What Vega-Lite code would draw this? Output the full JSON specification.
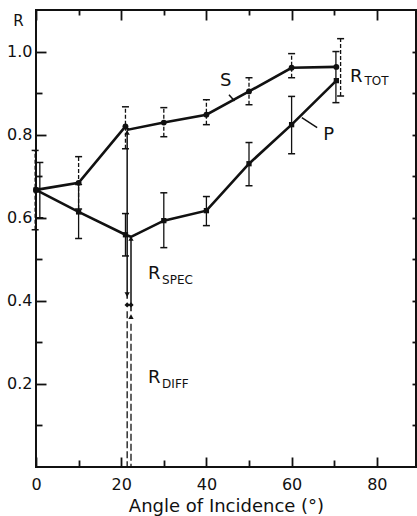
{
  "$schema": "https://vega.github.io/schema/vega-lite/v6.json",
  "width": 380,
  "height": 457,
  "autosize": {"type": "none"},
  "padding": {"left": 36, "top": 10, "right": 1, "bottom": 49},
  "background": "white",
  "config": {
    "view": {"stroke": "#111", "strokeWidth": 2},
    "font": "DejaVu Sans",
    "axis": {"grid": false, "domain": false, "tickColor": "#111", "labelColor": "#111", "titleColor": "#111", "labelFont": "DejaVu Sans", "titleFont": "DejaVu Sans", "tickWidth": 1.8, "titleFontWeight": "normal"}
  },
  "datasets": {
    "lines": [
      {"series": "S", "kind": "measured", "angle": 0, "R": 0.667},
      {"series": "S", "kind": "measured", "angle": 10, "R": 0.684},
      {"series": "S", "kind": "measured", "angle": 21, "R": 0.82},
      {"series": "S", "kind": "junction", "angle": 21.6, "R": 0.812},
      {"series": "S", "kind": "measured", "angle": 30, "R": 0.829},
      {"series": "S", "kind": "measured", "angle": 40, "R": 0.848},
      {"series": "S", "kind": "measured", "angle": 50, "R": 0.904},
      {"series": "S", "kind": "measured", "angle": 60, "R": 0.961},
      {"series": "S", "kind": "measured", "angle": 70.5, "R": 0.963},
      {"series": "P", "kind": "measured", "angle": 0, "R": 0.667},
      {"series": "P", "kind": "measured", "angle": 10, "R": 0.614},
      {"series": "P", "kind": "measured", "angle": 21, "R": 0.559},
      {"series": "P", "kind": "junction", "angle": 22.3, "R": 0.554},
      {"series": "P", "kind": "measured", "angle": 30, "R": 0.593},
      {"series": "P", "kind": "measured", "angle": 40, "R": 0.617},
      {"series": "P", "kind": "measured", "angle": 50, "R": 0.73},
      {"series": "P", "kind": "measured", "angle": 60, "R": 0.824},
      {"series": "P", "kind": "measured", "angle": 70.5, "R": 0.93}
    ],
    "errors": [
      {"series": "S", "angle": -0.2, "lo": 0.571, "hi": 0.762},
      {"series": "S", "angle": 10, "lo": 0.621, "hi": 0.747},
      {"series": "S", "angle": 21, "lo": 0.766, "hi": 0.867},
      {"series": "S", "angle": 30, "lo": 0.795, "hi": 0.865},
      {"series": "S", "angle": 40, "lo": 0.824, "hi": 0.884},
      {"series": "S", "angle": 50, "lo": 0.872, "hi": 0.937},
      {"series": "S", "angle": 60, "lo": 0.937, "hi": 0.995},
      {"series": "S", "angle": 71.5, "lo": 0.893, "hi": 1.031},
      {"series": "P", "angle": 0.9, "lo": 0.6, "hi": 0.733},
      {"series": "P", "angle": 10, "lo": 0.55, "hi": 0.68},
      {"series": "P", "angle": 21, "lo": 0.508, "hi": 0.61},
      {"series": "P", "angle": 30, "lo": 0.528, "hi": 0.66},
      {"series": "P", "angle": 40, "lo": 0.581, "hi": 0.651},
      {"series": "P", "angle": 50, "lo": 0.677, "hi": 0.781},
      {"series": "P", "angle": 60, "lo": 0.754, "hi": 0.892},
      {"series": "P", "angle": 70.4, "lo": 0.877, "hi": 1.0}
    ],
    "drops": [
      {"component": "spec", "angle": 21.4, "top": 0.81, "bottom": 0.405},
      {"component": "spec", "angle": 22.3, "top": 0.554, "bottom": 0.375},
      {"component": "diff", "angle": 21.4, "top": 0.375, "bottom": 0},
      {"component": "diff", "angle": 22.3, "top": 0.345, "bottom": 0}
    ],
    "markers": [
      {"kind": "arrow-up", "angle": 21.4, "R": 0.805},
      {"kind": "arrow-down", "angle": 21.4, "R": 0.415},
      {"kind": "point", "angle": 21.4, "R": 0.39},
      {"kind": "arrow-up", "angle": 22.3, "R": 0.55},
      {"kind": "point", "angle": 22.3, "R": 0.39},
      {"kind": "arrow-up", "angle": 22.3, "R": 0.362}
    ],
    "leaders": [
      {"label": "S", "a1": 45.3, "r1": 0.896, "a2": 46.6, "r2": 0.881},
      {"label": "P", "a1": 62.4, "r1": 0.841, "a2": 66.0, "r2": 0.817}
    ],
    "labels": [
      {"text": "S", "angle": 43.2, "R": 0.928},
      {"text": "P", "angle": 67.4, "R": 0.80},
      {"text": "R", "angle": 73.7, "R": 0.939},
      {"text": "R", "angle": 26.3, "R": 0.464},
      {"text": "R", "angle": 26.3, "R": 0.214}
    ],
    "subscripts": [
      {"text": "TOT", "angle": 77.1, "R": 0.929},
      {"text": "SPEC", "angle": 29.6, "R": 0.449},
      {"text": "DIFF", "angle": 29.6, "R": 0.2}
    ]
  },
  "resolve": {"axis": {"x": "independent", "y": "independent"}},
  "layer": [
    {
      "data": {"name": "lines"},
      "transform": [{"filter": "datum.series == 'S'"}],
      "mark": {"type": "line", "color": "#111", "strokeWidth": 2.6},
      "encoding": {
        "x": {"field": "angle", "type": "quantitative", "sort": null, "scale": {"domain": [0, 89.2], "nice": false, "zero": false},
          "axis": {"orient": "bottom", "values": [0, 20, 40, 60, 80], "offset": -10, "tickSize": 10, "labelPadding": 9, "labelFontSize": 16, "labelFlush": false, "title": "Angle of Incidence (°)", "titleFontSize": 18, "titleY": 54, "titleBaseline": "alphabetic"}},
        "y": {"field": "R", "type": "quantitative", "scale": {"domain": [0, 1.1], "nice": false, "zero": false},
          "axis": {"orient": "left", "values": [0.2, 0.4, 0.6, 0.8, 1.0], "format": ".1f", "offset": -10, "tickSize": 10, "labelPadding": 4, "labelFontSize": 16, "title": "R", "titleAngle": 0, "titleX": -28, "titleY": 10, "titleAlign": "center", "titleBaseline": "middle", "titleFontSize": 15}}
      }
    },
    {
      "data": {"name": "lines"},
      "transform": [{"filter": "datum.series == 'P'"}],
      "mark": {"type": "line", "color": "#111", "strokeWidth": 2.6},
      "encoding": {
        "x": {"field": "angle", "type": "quantitative", "sort": null, "scale": {"domain": [0, 89.2], "nice": false, "zero": false},
          "axis": {"orient": "bottom", "values": [10, 30, 50, 70], "offset": -7, "tickSize": 7, "labels": false, "title": null}},
        "y": {"field": "R", "type": "quantitative", "scale": {"domain": [0, 1.1], "nice": false, "zero": false},
          "axis": {"orient": "left", "values": [0.1, 0.3, 0.5, 0.7, 0.9], "offset": -6, "tickSize": 6, "labels": false, "title": null}}
      }
    },
    {
      "data": {"name": "lines"},
      "transform": [{"filter": "datum.series == 'S' && datum.kind == 'measured'"}],
      "mark": {"type": "point", "shape": "circle", "filled": true, "color": "#111", "size": 34, "opacity": 1},
      "encoding": {
        "x": {"field": "angle", "type": "quantitative", "scale": {"domain": [0, 89.2], "nice": false, "zero": false},
          "axis": {"orient": "top", "values": [0, 20, 40, 60, 80], "offset": -10, "tickSize": 10, "labels": false, "title": null}},
        "y": {"field": "R", "type": "quantitative", "scale": {"domain": [0, 1.1], "nice": false, "zero": false},
          "axis": {"orient": "right", "values": [0.1, 0.2, 0.3, 0.4, 0.5, 0.6, 0.7, 0.8, 0.9, 1.0], "offset": -4, "tickSize": 4, "labels": false, "title": null}}
      }
    },
    {
      "data": {"name": "lines"},
      "transform": [{"filter": "datum.series == 'P' && datum.kind == 'measured'"}],
      "mark": {"type": "point", "shape": "square", "filled": true, "color": "#111", "size": 28, "opacity": 1},
      "encoding": {
        "x": {"field": "angle", "type": "quantitative", "scale": {"domain": [0, 89.2], "nice": false, "zero": false},
          "axis": {"orient": "top", "values": [10, 30, 50, 70], "offset": -5, "tickSize": 5, "labels": false, "title": null}},
        "y": {"field": "R", "type": "quantitative", "scale": {"domain": [0, 1.1], "nice": false, "zero": false}, "axis": null}
      }
    },
    {
      "data": {"name": "errors"},
      "transform": [{"filter": "datum.series == 'S'"}],
      "mark": {"type": "rule", "color": "#111", "strokeWidth": 1.3, "strokeDash": [4, 2]},
      "encoding": {
        "x": {"field": "angle", "type": "quantitative", "axis": null},
        "y": {"field": "lo", "type": "quantitative", "axis": null},
        "y2": {"field": "hi"}
      }
    },
    {
      "data": {"name": "errors"},
      "transform": [{"filter": "datum.series == 'P'"}],
      "mark": {"type": "rule", "color": "#111", "strokeWidth": 1.3},
      "encoding": {
        "x": {"field": "angle", "type": "quantitative", "axis": null},
        "y": {"field": "lo", "type": "quantitative", "axis": null},
        "y2": {"field": "hi"}
      }
    },
    {
      "data": {"name": "errors"},
      "mark": {"type": "tick", "orient": "horizontal", "color": "#111", "size": 7, "thickness": 1.5, "opacity": 1},
      "encoding": {
        "x": {"field": "angle", "type": "quantitative", "axis": null},
        "y": {"field": "lo", "type": "quantitative", "axis": null}
      }
    },
    {
      "data": {"name": "errors"},
      "mark": {"type": "tick", "orient": "horizontal", "color": "#111", "size": 7, "thickness": 1.5, "opacity": 1},
      "encoding": {
        "x": {"field": "angle", "type": "quantitative", "axis": null},
        "y": {"field": "hi", "type": "quantitative", "axis": null}
      }
    },
    {
      "data": {"name": "drops"},
      "transform": [{"filter": "datum.component == 'spec'"}],
      "mark": {"type": "rule", "color": "#111", "strokeWidth": 1.5},
      "encoding": {
        "x": {"field": "angle", "type": "quantitative", "axis": null},
        "y": {"field": "top", "type": "quantitative", "axis": null},
        "y2": {"field": "bottom"}
      }
    },
    {
      "data": {"name": "drops"},
      "transform": [{"filter": "datum.component == 'diff'"}],
      "mark": {"type": "rule", "color": "#111", "strokeWidth": 1.3, "strokeDash": [7, 3]},
      "encoding": {
        "x": {"field": "angle", "type": "quantitative", "axis": null},
        "y": {"field": "top", "type": "quantitative", "axis": null},
        "y2": {"field": "bottom"}
      }
    },
    {
      "data": {"name": "markers"},
      "mark": {"type": "point", "filled": true, "color": "#111", "size": 28, "opacity": 1},
      "encoding": {
        "x": {"field": "angle", "type": "quantitative", "axis": null},
        "y": {"field": "R", "type": "quantitative", "axis": null},
        "shape": {"field": "kind", "type": "nominal", "scale": {"domain": ["arrow-up", "arrow-down", "point"], "range": ["triangle-up", "triangle-down", "diamond"]}, "legend": null}
      }
    },
    {
      "data": {"name": "leaders"},
      "mark": {"type": "rule", "color": "#111", "strokeWidth": 1.5},
      "encoding": {
        "x": {"field": "a1", "type": "quantitative", "axis": null},
        "y": {"field": "r1", "type": "quantitative", "axis": null},
        "x2": {"field": "a2"},
        "y2": {"field": "r2"}
      }
    },
    {
      "data": {"name": "labels"},
      "mark": {"type": "text", "align": "left", "baseline": "middle", "font": "DejaVu Sans", "fontSize": 18, "color": "#111"},
      "encoding": {
        "x": {"field": "angle", "type": "quantitative", "axis": null},
        "y": {"field": "R", "type": "quantitative", "axis": null},
        "text": {"field": "text"}
      }
    },
    {
      "data": {"name": "subscripts"},
      "mark": {"type": "text", "align": "left", "baseline": "middle", "font": "DejaVu Sans", "fontSize": 12, "color": "#111"},
      "encoding": {
        "x": {"field": "angle", "type": "quantitative", "axis": null},
        "y": {"field": "R", "type": "quantitative", "axis": null},
        "text": {"field": "text"}
      }
    }
  ]
}
